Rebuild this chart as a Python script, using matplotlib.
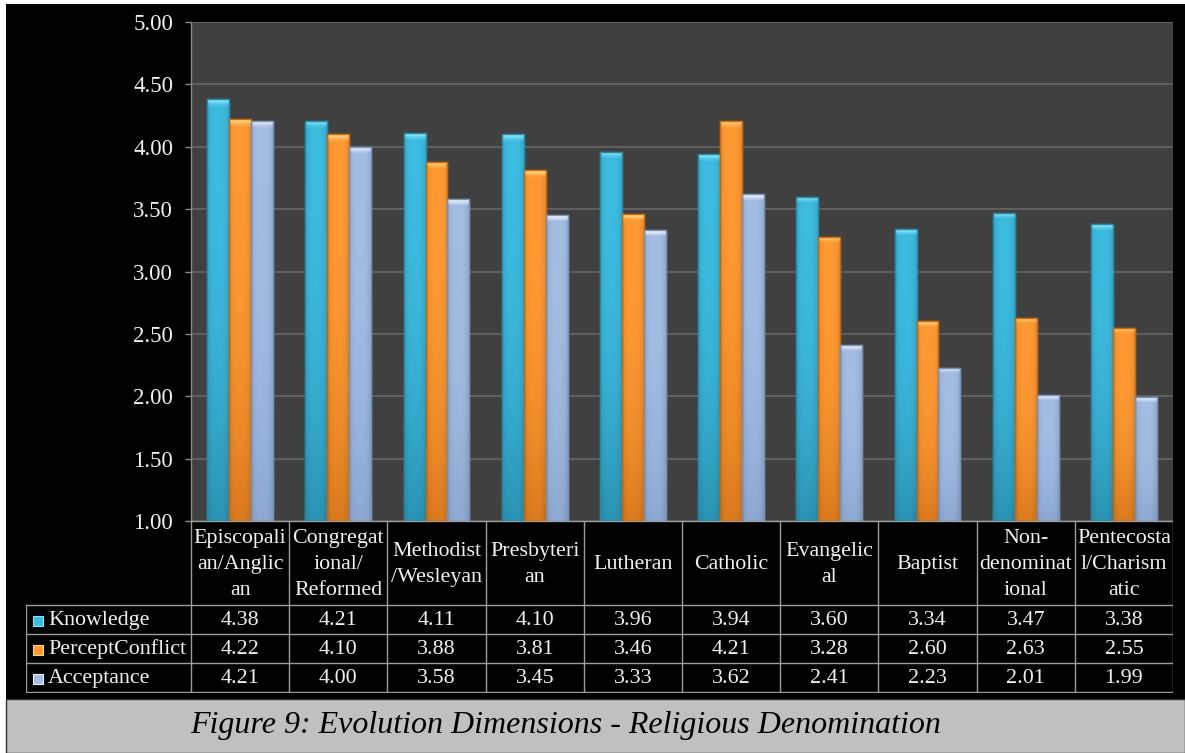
import numpy as np
import matplotlib
matplotlib.use("Agg")
import matplotlib.pyplot as plt
from matplotlib.patches import Rectangle
from matplotlib.colors import to_rgb

# ---- data -------------------------------------------------------------
categories = ["Episcopali\nan/Anglic\nan", "Congregat\nional/\nReformed",
              "Methodist\n/Wesleyan", "Presbyteri\nan", "Lutheran", "Catholic",
              "Evangelic\nal", "Baptist", "Non-\ndenominat\nional",
              "Pentecosta\nl/Charism\natic"]
series_names = ["Knowledge", "PerceptConflict", "Acceptance"]
knowledge = [4.38, 4.21, 4.11, 4.10, 3.96, 3.94, 3.60, 3.34, 3.47, 3.38]
percept_conflict = [4.22, 4.10, 3.88, 3.81, 3.46, 4.21, 3.28, 2.60, 2.63, 2.55]
acceptance = [4.21, 4.00, 3.58, 3.45, 3.33, 3.62, 2.41, 2.23, 2.01, 1.99]
yticks = [1.00, 1.50, 2.00, 2.50, 3.00, 3.50, 4.00, 4.50, 5.00]
caption = "Figure 9: Evolution Dimensions - Religious Denomination"

series = [knowledge, percept_conflict, acceptance]
# (main, bottom shade, top bevel, edge)
palette = [("#3DBBE0", "#2B93B3", "#86E6F8", "#2A86A3"),
           ("#FF9A33", "#DC7A1E", "#FFD884", "#C4670F"),
           ("#A3BDE3", "#8EA9D2", "#EEF4FF", "#7890B4")]

W, H = 1185, 753
SERIF = ["Liberation Serif", "DejaVu Serif"]
TXT = "#f0f0f0"
LINE = "#9c9c9c"
FS = 15.8

fig = plt.figure(figsize=(W / 100, H / 100), dpi=100, facecolor="white")


def fx(px):
    return px / W


def fy(py):
    return 1 - py / H


# black frame and grey caption strip
fig.add_artist(Rectangle((fx(6), fy(699)), fx(W) - fx(6), fy(4) - fy(699),
                         transform=fig.transFigure, facecolor="black",
                         edgecolor="none", zorder=0))
fig.add_artist(Rectangle((fx(6), fy(H)), fx(W) - fx(6), fy(699) - fy(H),
                         transform=fig.transFigure, facecolor="#c0c0c0",
                         edgecolor="#303030", lw=1, zorder=0))
fig.text(fx(566), fy(725), caption, ha="center", va="center",
         fontsize=23, style="italic", family=SERIF, color="black")

# ---- bar chart ---------------------------------------------------------
L, R, T, B = 191, 1173, 22, 521
ax = fig.add_axes([fx(L), fy(B), fx(R) - fx(L), fy(T) - fy(B)])
ax.set_facecolor("#404040")
ax.set_xlim(-0.5, len(categories) - 0.5)
ax.set_ylim(1.0, 5.0)
ax.set_yticks(yticks)
ax.set_yticklabels([f"{v:.2f}" for v in yticks], family=SERIF, fontsize=16.5,
                   color=TXT)
ax.tick_params(axis="y", length=4.3, width=1, color="#8a8a8a", pad=8.5)
ax.tick_params(axis="x", length=0, labelbottom=False)
ax.grid(axis="y", color="#606060", lw=1.4, zorder=0)
ax.set_axisbelow(True)
for s in ("top", "right", "bottom"):
    ax.spines[s].set_visible(False)
ax.spines["left"].set_color("#8a8a8a")
ax.spines["left"].set_linewidth(1)

bw = 0.224
x = np.arange(len(categories))
px_per_y = (B - T) / 4.0
bevel = 5 / px_per_y

for j, vals in enumerate(series):
    main, bot, top, edge = [np.array(to_rgb(c)) for c in palette[j]]
    bars = ax.bar(x + (j - 1) * bw, np.array(vals) - 1.0, width=bw, bottom=1.0,
                  color=palette[j][0], edgecolor=palette[j][3], lw=1.0,
                  zorder=2)
    for bar in bars:
        bx, by = bar.get_x(), bar.get_y()
        bwid, bh = bar.get_width(), bar.get_height()
        n = 120
        yy = np.linspace(1, 0, n)[:, None]          # 1 at top, 0 at bottom
        xx = np.linspace(0, 1, 24)[None, :]
        t = (1 - yy) ** 2.6                           # darken toward bottom
        img = main[None, None, :] * (1 - t[..., None]) + bot[None, None, :] * t[..., None]
        side = 1 - 0.10 * (np.abs(xx - 0.5) * 2) ** 3  # slight rounding
        img = img * side[..., None]
        ytop = by + bh
        ys = by + yy * bh
        cap = np.clip((ys - (ytop - bevel)) / bevel, 0, 1)
        img = img * (1 - cap[..., None]) + top[None, None, :] * cap[..., None]
        img = np.broadcast_to(img, (n, 24, 3)).copy()
        im = ax.imshow(np.clip(img, 0, 1), extent=[bx, bx + bwid, by, ytop],
                       aspect="auto", zorder=2.5, interpolation="bilinear")
        im.set_clip_path(bar)
        ax.add_patch(Rectangle((bx, by), bwid, bh, facecolor="none",
                               edgecolor=palette[j][3], lw=1.0, zorder=3))
ax.set_xlim(-0.5, len(categories) - 0.5)
ax.set_ylim(1.0, 5.0)

# ---- data table --------------------------------------------------------
TL, TB = 26, 693
tab = fig.add_axes([fx(TL), fy(TB), fx(R) - fx(TL), fy(B) - fy(TB)])
tab.axis("off")
upx = 1.0 / ((R - L) / len(categories))
x_left = -0.5 - (L - TL) * upx
tab.set_xlim(x_left, len(categories) - 0.5)
tab.set_ylim(TB, B)

row_edges = [605, 634, 663, 692]
tab.plot([-0.5, len(categories) - 0.5], [B, B], color=LINE, lw=1.0)
for ye in row_edges:
    tab.plot([x_left, len(categories) - 0.5], [ye, ye], color=LINE, lw=1.0)
for k in range(len(categories) + 1):
    tab.plot([k - 0.5, k - 0.5], [B, row_edges[-1]], color=LINE, lw=1.0)
tab.plot([x_left, x_left], [row_edges[0], row_edges[-1]], color=LINE, lw=1.0)

for i, lab in enumerate(categories):
    tab.text(i, (B + row_edges[0]) / 2 + 1, lab, ha="center", va="center",
             family=SERIF, fontsize=FS, color=TXT, linespacing=1.5)

for j, vals in enumerate(series):
    yc = (row_edges[j] + row_edges[j + 1]) / 2 + 1
    for i, v in enumerate(vals):
        tab.text(i, yc, f"{v:.2f}", ha="center", va="center", family=SERIF,
                 fontsize=FS, color=TXT)
    kx = x_left + 7 * upx
    tab.add_patch(Rectangle((kx, yc - 5), 10 * upx, 10,
                            facecolor=palette[j][0], edgecolor=palette[j][2],
                            lw=0.8))
    tab.text(x_left + 22 * upx, yc, series_names[j], ha="left", va="center",
             family=SERIF, fontsize=FS, color=TXT)

fig.savefig("out.png", dpi=100, facecolor="white")
